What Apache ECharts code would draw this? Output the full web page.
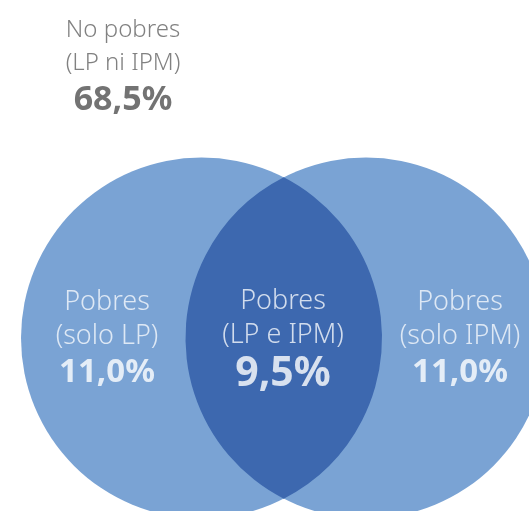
<!DOCTYPE html>
<html>
<head>
<meta charset="utf-8">
<script src="https://cdn.jsdelivr.net/npm/echarts@6/dist/echarts.min.js"></script>
<style>
  html, body { margin: 0; padding: 0; background: #fff; }
  #main { width: 529px; height: 511px; }
</style>
</head>
<body>
<div id="main"></div>
<script>
// categories and values
var grupos = ['No pobres', 'Pobres', 'Pobres', 'Pobres'];
var criterios = ['(LP ni IPM)', '(solo LP)', '(LP e IPM)', '(solo IPM)'];
var valores = [68.5, 11.0, 9.5, 11.0];

// layout (pixel-like units on hidden axes)
var circulos = [[201.5, 338, 180.5], [366, 338, 180.5]];
var posEtiquetas = [[123, 67], [107, 339], [283, 340], [460, 339]];

var FONT = '"Noto Sans", sans-serif';

function fmt(v) {
  return v.toFixed(1).replace('.', ',') + '%';
}

var etiquetas = valores.map(function (v, i) {
  return {
    value: posEtiquetas[i],
    name: grupos[i],
    crit: criterios[i],
    pct: fmt(v),
    idx: i
  };
});

function renderCirculo(params, api) {
  var c = api.coord([api.value(0), api.value(1)]);
  var r = api.size([api.value(2), 0])[0];
  return {
    type: 'circle',
    shape: { cx: c[0], cy: c[1], r: r },
    style: { fill: '#7aa3d4' }
  };
}

function renderLente(params, api) {
  if (params.dataIndex !== 0) return;
  var a = api.coord([circulos[0][0], circulos[0][1]]);
  var b = api.coord([circulos[1][0], circulos[1][1]]);
  var r = api.size([circulos[0][2], 0])[0];
  var d = b[0] - a[0];
  var mx = (a[0] + b[0]) / 2;
  var h = Math.sqrt(r * r - (d / 2) * (d / 2));
  var y0 = a[1];
  var path = 'M' + mx + ' ' + (y0 - h) +
    ' A' + r + ' ' + r + ' 0 0 1 ' + mx + ' ' + (y0 + h) +
    ' A' + r + ' ' + r + ' 0 0 1 ' + mx + ' ' + (y0 - h) + ' Z';
  return {
    type: 'path',
    shape: { pathData: path },
    style: { fill: '#3d68af' }
  };
}

var chart = echarts.init(document.getElementById('main'));
chart.setOption({
  animation: false,
  grid: { left: 0, right: 0, top: 0, bottom: 0 },
  xAxis: { type: 'value', min: 0, max: 529, show: false },
  yAxis: { type: 'value', min: 0, max: 511, inverse: true, show: false },
  series: [
    {
      type: 'custom',
      renderItem: renderCirculo,
      data: circulos,
      clip: false,
      z: 1
    },
    {
      type: 'custom',
      renderItem: renderLente,
      data: [circulos[0]],
      clip: false,
      z: 2
    },
    {
      type: 'scatter',
      symbolSize: 0,
      data: etiquetas,
      z: 5,
      label: {
        show: true,
        position: 'inside',
        align: 'center',
        verticalAlign: 'middle',
        formatter: function (p) {
          var d = p.data;
          if (d.idx === 0) {
            return '{t|' + d.name + '}\n{t|' + d.crit + '}\n{v0|' + d.pct + '}';
          }
          var vs = d.idx === 2 ? 'vc' : 'v';
          return '{w|' + d.name + '}\n{w|' + d.crit + '}\n{' + vs + '|' + d.pct + '}';
        },
        rich: {
          t: { fontFamily: FONT, fontSize: 24, fontWeight: 300, color: '#626262', lineHeight: 33, align: 'center' },
          v0: { fontFamily: FONT, fontSize: 34, fontWeight: 'bold', color: '#505050', lineHeight: 40, align: 'center' },
          w: { fontFamily: FONT, fontSize: 27, fontWeight: 300, color: '#f6f9fd', lineHeight: 34, align: 'center' },
          v: { fontFamily: FONT, fontSize: 33, fontWeight: 'bold', color: '#ffffff', lineHeight: 40, align: 'center' },
          vc: { fontFamily: FONT, fontSize: 41, fontWeight: 'bold', color: '#ffffff', lineHeight: 44, align: 'center' }
        }
      }
    }
  ]
});
</script>
</body>
</html>
